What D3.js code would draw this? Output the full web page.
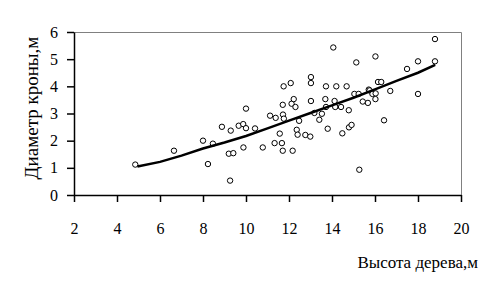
<!DOCTYPE html>
<html>
<head>
<meta charset="utf-8">
<script src="https://cdn.jsdelivr.net/npm/d3@7"></script>
<style>
  body { margin: 0; background: #fff; }
  svg text { font-family: "Liberation Serif", "Times New Roman", serif; fill: #000; }
</style>
</head>
<body>
<svg id="chart" width="489" height="290"></svg>
<script>
// tree height (m) and crown diameter (m)
const heights = [4.85, 6.65, 8.0, 8.23, 8.46, 8.88, 9.26, 9.29, 9.2, 9.41, 9.66, 9.87, 9.88,
  10.0, 10.0, 10.42, 10.78, 11.12, 11.38, 11.33, 11.57, 11.67, 11.71, 11.71, 11.72, 11.76, 11.75,
  12.08, 12.12, 12.22, 12.3, 12.17, 12.36, 12.4, 12.47, 12.76, 12.99, 13.02, 13.02, 13.02, 13.18,
  13.41, 13.53, 13.69, 13.72, 13.72, 13.8, 14.06, 14.12, 14.15, 14.2, 14.42, 14.48, 14.68, 14.78,
  14.79, 14.91, 15.13, 15.04, 15.24, 15.27, 15.43, 15.67, 15.71, 15.75, 15.88, 16.02, 16.03, 16.02,
  16.14, 16.29, 16.42, 16.71, 17.49, 18.0, 18.0, 18.79, 18.79];
const crowns = [1.12, 1.63, 2.0, 1.14, 1.89, 2.51, 0.53, 2.37, 1.52, 1.54, 2.55, 2.61, 1.75,
  2.46, 3.18, 2.45, 1.75, 2.92, 2.84, 1.91, 2.26, 1.91, 1.63, 3.32, 2.96, 2.81, 4.0,
  4.12, 3.36, 3.53, 3.24, 1.63, 2.4, 2.22, 2.73, 2.21, 2.15, 4.34, 4.12, 3.46, 3.02,
  2.77, 2.99, 3.53, 3.24, 4.0, 2.44, 5.43, 3.46, 3.24, 4.0, 3.24, 2.27, 4.0, 3.12,
  2.49, 2.58, 4.88, 3.72, 3.72, 0.93, 3.44, 3.39, 3.88, 3.85, 3.72, 5.1, 3.74, 3.53,
  4.16, 4.16, 2.75, 3.83, 4.64, 4.92, 3.72, 5.74, 4.92];

// smoothed trend line
const trendX = [4.95, 6, 7, 8, 9, 10, 11, 12, 13, 14, 15, 16, 17, 18, 18.8];
const trendY = [1.05, 1.22, 1.45, 1.71, 1.93, 2.17, 2.45, 2.74, 3.02, 3.3, 3.58, 3.89, 4.2, 4.5, 4.79];

const xTicks = [2, 4, 6, 8, 10, 12, 14, 16, 18, 20];
const yTicks = [0, 1, 2, 3, 4, 5, 6];

const margin = { top: 32, left: 74 };
const width = 461 - margin.left;
const height = 195 - margin.top;
const serif = "'Liberation Serif', 'Times New Roman', serif";

const svg = d3.select("#chart");
const g = svg.append("g").attr("transform", `translate(${margin.left}, ${margin.top})`);

const x = d3.scaleLinear().domain([2, 20]).range([0, width]);
const y = d3.scaleLinear().domain([0, 6]).range([height, 0]);

// grey frame on top and right
g.append("path")
  .attr("d", `M0,0.5H${width + 0.5}V${height}`)
  .attr("fill", "none")
  .attr("stroke", "#808080")
  .attr("stroke-width", 1);

const xAxis = g.append("g")
  .attr("transform", `translate(0, ${height})`)
  .call(d3.axisBottom(x).tickValues(xTicks).tickFormat(d3.format("d"))
    .tickSize(7).tickPadding(21).tickSizeOuter(0));

const yAxis = g.append("g")
  .call(d3.axisLeft(y).tickValues(yTicks).tickFormat(d3.format("d"))
    .tickSize(7).tickPadding(9).tickSizeOuter(0));

[xAxis, yAxis].forEach(a => {
  a.attr("font-family", serif).attr("font-size", 16);
  a.select(".domain").attr("stroke", "#000").attr("stroke-width", 1.5);
  a.selectAll(".tick line").attr("stroke", "#000").attr("stroke-width", 1.5);
  a.selectAll(".tick text")
    .attr("font-family", serif)
    .attr("font-size", 16);
});

// points
const pts = heights.map((h, i) => ({ h: h, c: crowns[i] }));
g.selectAll("circle.pt")
  .data(pts)
  .enter().append("circle")
  .attr("class", "pt")
  .attr("cx", d => x(d.h))
  .attr("cy", d => y(d.c))
  .attr("r", 2.7)
  .attr("fill", "#fff")
  .attr("stroke", "#000")
  .attr("stroke-width", 1);

// trend line
const line = d3.line()
  .x(d => x(d))
  .y((d, i) => y(trendY[i]));

g.append("path")
  .datum(trendX)
  .attr("d", line)
  .attr("fill", "none")
  .attr("stroke", "#000")
  .attr("stroke-width", 2.5);

// axis titles
svg.append("text")
  .attr("x", 478)
  .attr("y", 268)
  .attr("text-anchor", "end")
  .style("font-size", "17px")
  .text("Высота дерева,м");

svg.append("text")
  .attr("transform", "translate(38, 108) rotate(-90)")
  .attr("text-anchor", "middle")
  .style("font-size", "19px")
  .text("Диаметр кроны,м");
</script>
</body>
</html>
